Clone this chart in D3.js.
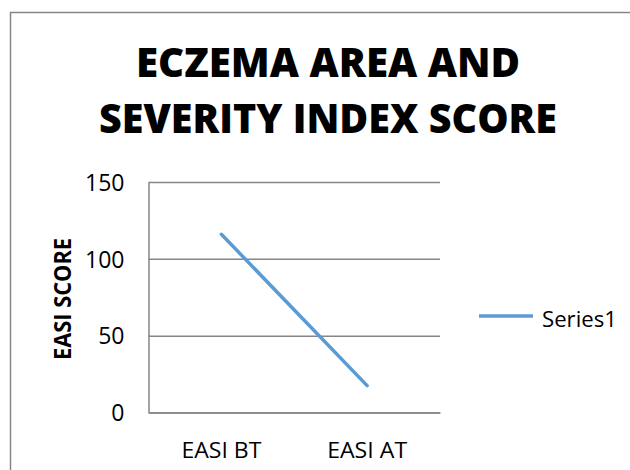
<!DOCTYPE html>
<html>
<head>
<style type="text/css">
body { margin: 0; background: #fff; }
text { font-family: "Open Sans", "Liberation Sans", sans-serif; fill: #000; }
.grid line { stroke: #868686; stroke-width: 1.5; }
.grid path { display: none; }
.axis path { stroke: #868686; stroke-width: 1.5; }
.axis line { display: none; }
.seriesline { fill: none; stroke: #5b9bd5; stroke-width: 3.5; stroke-linecap: round; }
</style>
<script src="https://d3js.org/d3.v7.min.js"></script>
</head>
<body>
<script type="text/javascript">
var width = 630;
var height = 470;

var categories = ["EASI BT", "EASI AT"];
var series1 = [116, 17.5];
var yTicks = [0, 50, 100, 150];
var titleLines = ["ECZEMA AREA AND", "SEVERITY INDEX SCORE"];
var yTitle = "EASI SCORE";
var seriesName = "Series1";

var plotL = 148.5, plotR = 440, plotT = 182, plotB = 412.5;

var svg = d3.select("body").append("svg").attr("width", width).attr("height", height);

// outer chart frame (runs off the right/bottom edge like the source image)
svg.append("rect")
	.attr("x", 10.5).attr("y", 12.5)
	.attr("width", 660).attr("height", 500)
	.attr("fill", "none").attr("stroke", "#868686").attr("stroke-width", 1.5);

// title
svg.selectAll(".title").data(titleLines).enter().append("text")
	.attr("class", "title")
	.attr("x", 328)
	.attr("y", function(d, i) { return 77 + i * 56; })
	.attr("text-anchor", "middle")
	.attr("font-size", 40)
	.attr("font-weight", 800)
	.attr("textLength", function(d, i) { return i == 0 ? 384 : 458; })
	.attr("lengthAdjust", "spacingAndGlyphs")
	.text(function(d) { return d; });

var x = d3.scaleBand().domain(categories).range([plotL, plotR]);
var y = d3.scaleLinear().domain([0, 150]).range([plotB, plotT]);

// gridlines
svg.append("g").attr("class", "grid")
	.attr("transform", "translate(" + plotL + ",0)")
	.call(d3.axisLeft(y).tickValues(yTicks).tickSize(-(plotR - plotL)).tickFormat(""));

// y axis
var ya = svg.append("g").attr("class", "axis")
	.attr("transform", "translate(" + plotL + ",0)")
	.call(d3.axisLeft(y).tickValues(yTicks).tickSize(0).tickPadding(24));
ya.selectAll("text").attr("font-size", 23).attr("dy", "0.36em");

// x axis
var xa = svg.append("g").attr("class", "axis")
	.attr("transform", "translate(0," + plotB + ")")
	.call(d3.axisBottom(x).tickSize(0).tickPadding(30));
xa.selectAll("text").attr("font-size", 22).attr("dy", "0.71em")
	.attr("textLength", 80).attr("lengthAdjust", "spacingAndGlyphs");

// y axis title
svg.append("text")
	.attr("transform", "translate(71,299) rotate(-90)")
	.attr("text-anchor", "middle")
	.attr("font-size", 23)
	.attr("font-weight", "bold")
	.attr("textLength", 122)
	.attr("lengthAdjust", "spacingAndGlyphs")
	.text(yTitle);

// series line
var line = d3.line()
	.x(function(d, i) { return x(categories[i]) + x.bandwidth() / 2; })
	.y(function(d) { return y(d); });

svg.append("path").datum(series1)
	.attr("class", "seriesline")
	.attr("d", line);

// legend
var lg = svg.append("g").attr("transform", "translate(479,316)");
lg.append("line").attr("x1", 0).attr("x2", 54).attr("y1", 0).attr("y2", 0)
	.attr("stroke", "#5b9bd5").attr("stroke-width", 3.5);
lg.append("text").attr("x", 63).attr("y", 11)
	.attr("font-size", 22)
	.attr("textLength", 75).attr("lengthAdjust", "spacingAndGlyphs")
	.text(seriesName);
</script>
</body>
</html>
